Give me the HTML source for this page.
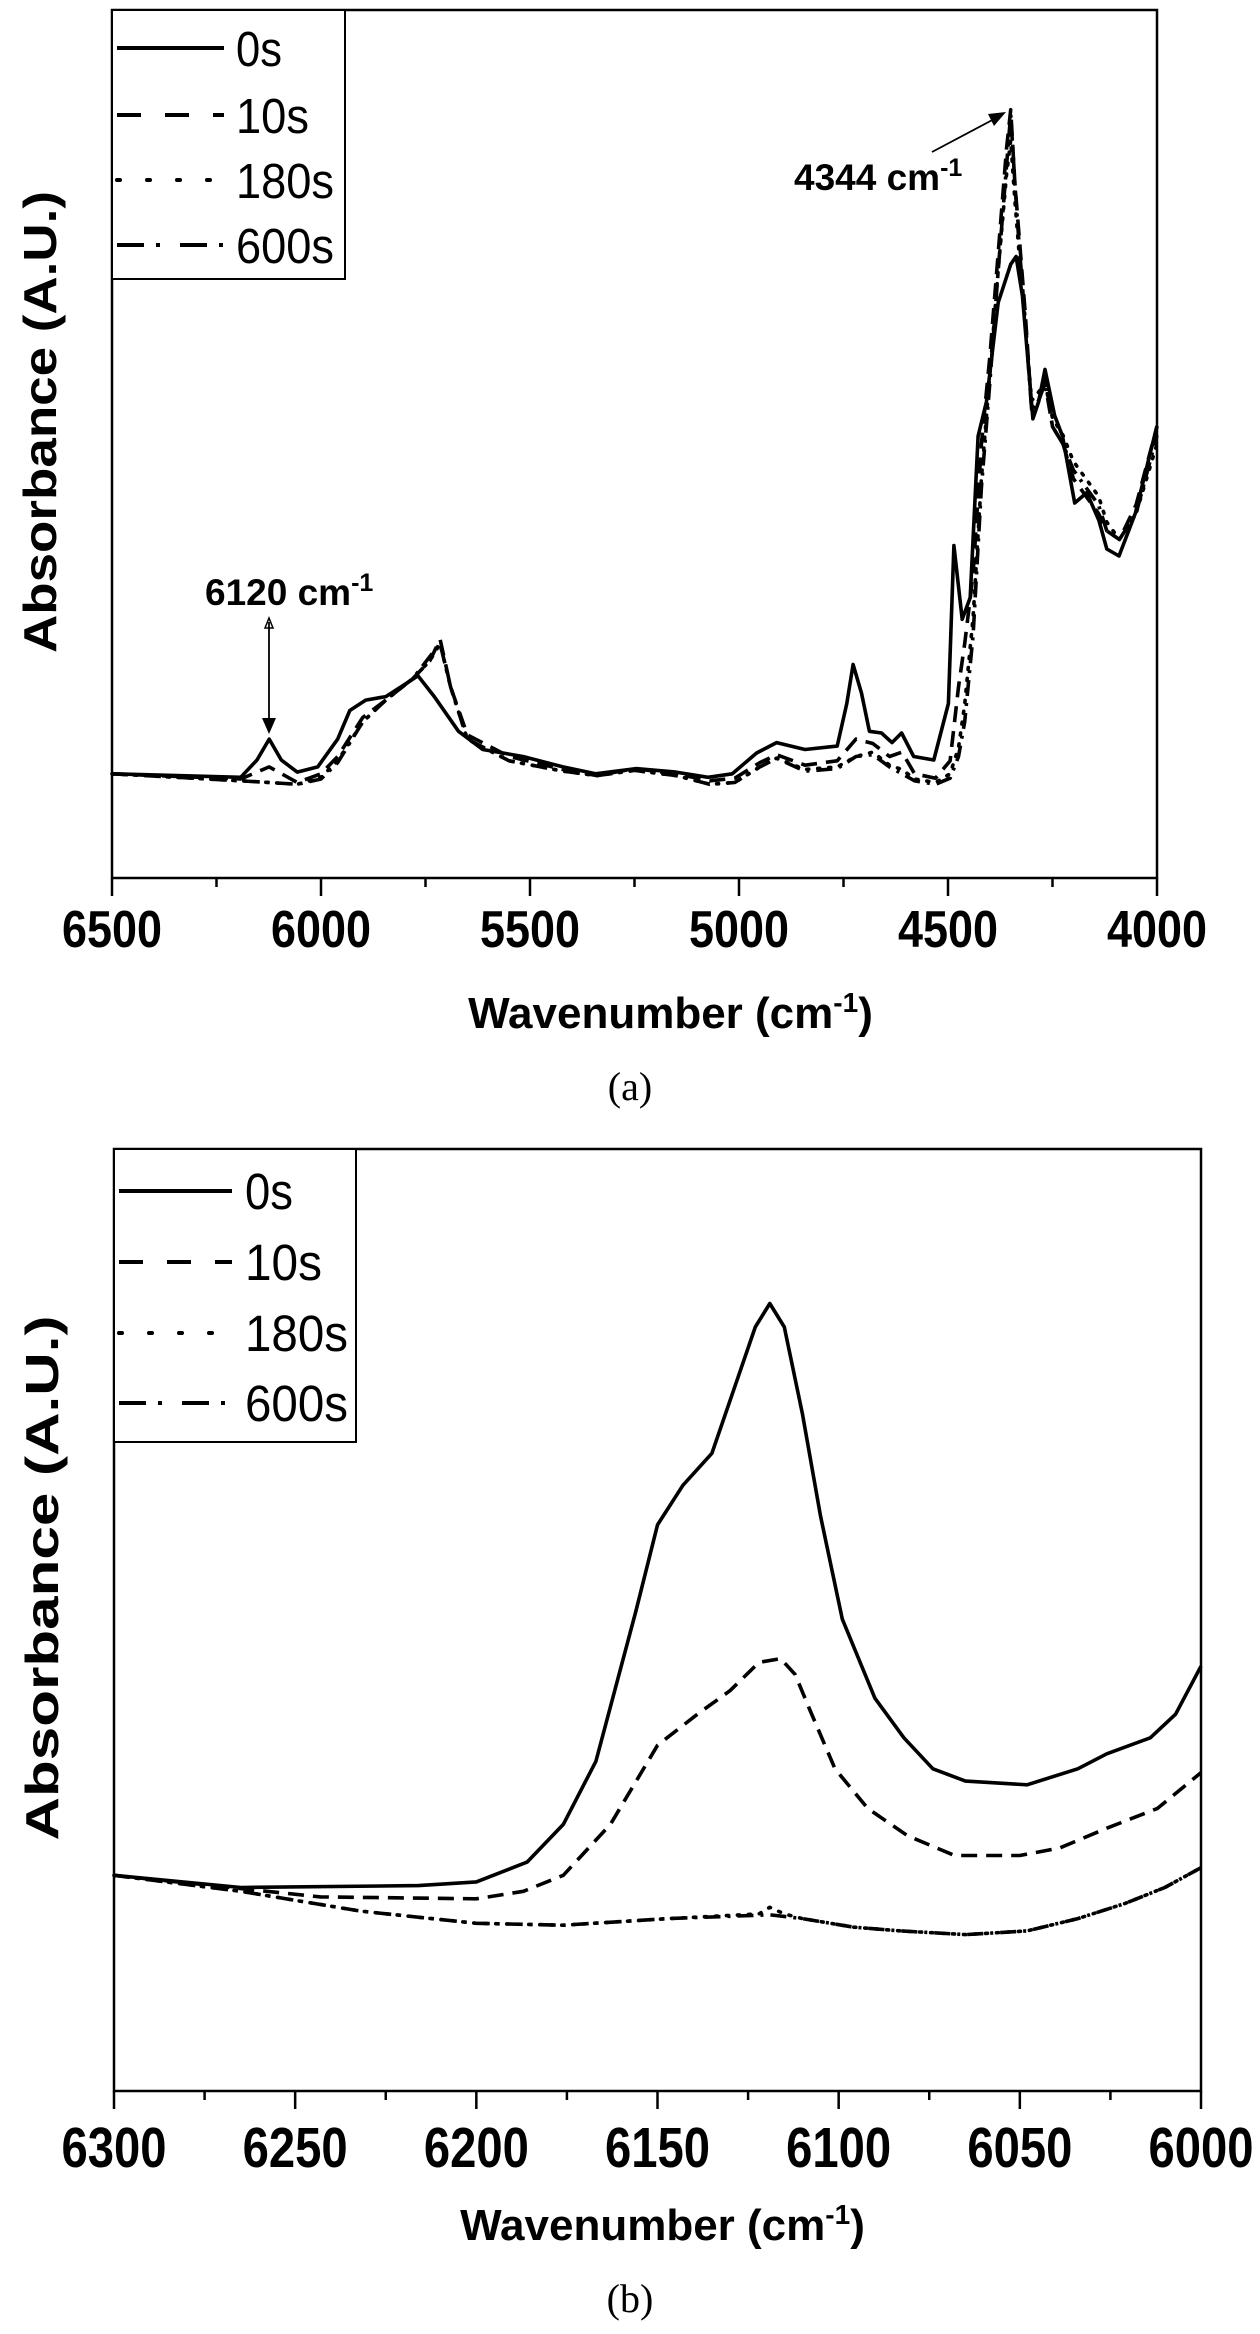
<!DOCTYPE html>
<html><head><meta charset="utf-8"><style>
html,body{margin:0;padding:0;background:#fff;}
svg{display:block;font-family:"Liberation Sans",Arial,sans-serif;}
</style></head><body>
<svg id="fig" width="1260" height="2334" viewBox="0 0 1260 2334" xmlns="http://www.w3.org/2000/svg">
<g id="panelA"></g>
<g id="panelB"></g>
</svg>
<script>
// ---------- Panel (a) data ----------
const aTicks = [6500, 6000, 5500, 5000, 4500, 4000];
const a0x = [6500,6192,6153,6124,6095,6057,6008,5960,5931,5893,5845,5806,5768,5729,5671,5613,5517,5421,5343,5247,5151,5074,5016,4958,4910,4842,4765,4742,4727,4707,4688,4659,4634,4611,4582,4534,4499,4486,4466,4447,4428,4408,4380,4350,4337,4322,4297,4283,4268,4245,4226,4197,4168,4139,4120,4091,4052,4000];
const a0y = [12.0,11.6,13.6,16.0,13.6,12.2,12.8,16.0,19.3,20.5,20.9,22.1,23.3,20.9,16.9,14.8,14.0,12.8,12.0,12.6,12.2,11.6,12.0,14.4,15.6,14.8,15.2,20.1,24.6,21.3,16.9,16.7,15.6,16.7,14.0,13.6,20.1,38.3,29.8,32.3,50.9,54.9,66.3,70.7,71.6,67.1,52.9,54.9,58.6,53.3,50.9,43.2,44.4,41.2,37.9,37.1,42.0,52.1];
const a10x = [6500,6192,6124,6057,6000,5960,5900,5845,5780,5740,5715,5690,5650,5550,5420,5340,5250,5150,5070,5010,4950,4910,4842,4765,4720,4680,4640,4610,4580,4530,4495,4475,4460,4440,4420,4400,4380,4360,4350,4340,4330,4315,4300,4283,4268,4250,4225,4200,4170,4140,4120,4090,4050,4000];
const a10y = [12.0,11.4,12.8,11.0,12.0,14.0,18.5,20.5,23.0,25.0,27.5,22.0,16.5,14.0,12.5,11.8,12.6,12.0,11.2,11.5,13.3,14.2,13.0,13.5,16.0,15.5,14.0,14.5,12.0,11.5,13.5,22.0,27.0,35.0,50.0,60.0,72.0,84.0,88.5,80.0,74.0,65.0,54.0,55.0,58.0,52.0,50.0,46.0,44.0,42.0,40.0,39.0,43.0,52.0];
const a180x = [6500,6192,6124,6057,6000,5960,5900,5845,5780,5740,5715,5690,5650,5550,5420,5340,5250,5150,5070,5010,4950,4910,4842,4765,4720,4680,4640,4610,4580,4530,4495,4475,4460,4440,4420,4400,4380,4360,4350,4340,4330,4315,4300,4283,4268,4250,4225,4200,4170,4140,4120,4090,4050,4000];
const a180y = [12.0,11.2,11.0,10.8,11.6,13.5,18.0,20.5,23.0,25.0,27.0,22.0,16.0,13.5,12.3,11.8,12.4,11.8,10.8,11.0,12.8,13.8,12.5,12.8,14.0,14.5,13.0,12.5,11.4,11.0,12.0,15.0,20.0,30.0,46.0,58.0,70.0,81.0,85.0,78.0,72.0,64.0,55.0,56.0,57.0,53.0,51.0,48.0,46.0,44.0,41.0,39.0,42.0,50.0];
const a600x = [6500,6192,6124,6057,6000,5960,5900,5845,5780,5740,5715,5690,5650,5550,5420,5340,5250,5150,5070,5010,4950,4910,4842,4765,4720,4680,4640,4610,4580,4530,4495,4475,4460,4440,4420,4400,4380,4360,4350,4340,4330,4315,4300,4283,4268,4250,4225,4200,4170,4140,4120,4090,4050,4000];
const a600y = [12.0,11.2,11.0,10.8,11.4,13.3,18.0,20.5,23.0,25.5,27.0,22.0,16.0,13.5,12.3,11.8,12.4,11.8,10.8,11.0,12.8,13.8,12.3,12.6,14.0,14.2,12.8,12.0,11.2,10.8,11.5,14.0,18.0,28.0,45.0,57.0,70.0,82.0,88.0,80.0,73.0,64.0,54.0,55.0,57.0,52.0,50.0,47.0,45.0,43.0,40.0,39.0,42.0,51.0];

// ---------- Panel (b) data ----------
const bTicks = [6300, 6250, 6200, 6150, 6100, 6050, 6000];
const b0x = [6300,6265,6216,6200,6186,6176,6167,6156,6150,6143,6135,6129,6123,6119,6115,6110,6105,6099,6090,6082,6074,6065,6048,6034,6026,6014,6007,6000];
const b0y = [22.9,21.6,21.8,22.2,24.3,28.3,35.0,50.9,60.1,64.3,67.7,74.4,81.1,83.6,81.1,71.9,61.0,50.1,41.7,37.5,34.2,32.9,32.5,34.2,35.8,37.5,40.0,45.1];
const b10x = [6300,6243,6200,6187,6176,6163,6150,6139,6130,6122,6116,6112,6108,6101,6092,6081,6068,6050,6039,6026,6012,6000];
const b10y = [22.9,20.6,20.4,21.2,22.9,28.3,36.7,40.0,42.5,45.5,45.9,44.2,40.5,34.2,30.0,27.1,25.0,25.0,25.8,27.9,30.0,33.8];
const b180x = [6300,6265,6232,6200,6176,6147,6122,6119,6115,6110,6096,6083,6065,6048,6034,6021,6010,6000];
const b180y = [22.9,21.2,19.1,17.8,17.6,18.3,18.8,19.5,18.8,18.3,17.4,17.0,16.6,17.0,18.3,19.9,21.6,23.7];
const b600x = [6300,6265,6232,6200,6176,6147,6119,6110,6096,6083,6065,6048,6034,6021,6010,6000];
const b600y = [22.9,21.2,19.1,17.8,17.6,18.3,18.7,18.3,17.4,17.0,16.6,17.0,18.3,19.9,21.6,23.7];

const NS = "http://www.w3.org/2000/svg";
function mk(parent, tag, attrs, text){
  const e = document.createElementNS(NS, tag);
  for (const k in attrs) e.setAttribute(k, attrs[k]);
  if (text !== undefined) e.textContent = text;
  parent.appendChild(e);
  return e;
}
const styles = {
  s0:  {dash:"none", leg:"none"},
  s10: {dash:"16 9", leg:"24 24"},
  s180:{dash:"2 9", leg:"3 27"},
  s600:{dash:"16 7 3 7", leg:"27 12 4 20"}
};

function drawPanel(g, cfg){
  const {L,R,T,B,xmin,xmax,ticks,minorStep,series,legend,tickW,tickFont,tickOff,label,labelY,ylabelX,ylabelY} = cfg;
  const sx = v => L + (xmax - v) / (xmax - xmin) * (R - L);
  const sy = v => B - v / 100 * (B - T);
  series.forEach(s => {
    let d = "";
    s.x.forEach((xv,i) => { d += (i ? "L" : "M") + sx(xv).toFixed(1) + "," + sy(s.y[i]).toFixed(1); });
    const p = mk(g, "path", {d:d, fill:"none", stroke:"#000", "stroke-width":"3.6", "stroke-linejoin":"round", "stroke-linecap": s.style==="s180" ? "round":"butt", "stroke-dasharray": styles[s.style].dash});
    
    
  });
  const fr = mk(g, "rect", {x:L, y:T, width:R-L, height:B-T, fill:"none", stroke:"#000", "stroke-width":"2.5"});
  
  
  for (let v = xmax; v >= xmin - 1e-6; v -= minorStep){
    const major = ticks.indexOf(Math.round(v)) >= 0;
    const t = mk(g, "line", {x1:sx(v), x2:sx(v), y1:B, y2:B + (major ? 18 : 9), stroke:"#000", "stroke-width":"2.5"});
    
    
  }
  ticks.forEach(v => {
    const t = mk(g, "text", {x:sx(v), y:B + tickOff, "text-anchor":"middle", "font-weight":"bold", "font-size":tickFont, textLength:tickW, lengthAdjust:"spacingAndGlyphs"}, String(v));
    
    
  });
  const xt = mk(g, "text", {x:(label.x1+label.x2)/2, y:labelY, "text-anchor":"middle", "font-weight":"bold", "font-size":"44"});
  
  
  mk(xt, "tspan", {}, "Wavenumber (cm");
  mk(xt, "tspan", {dy:"-16", "font-size":"28"}, "-1");
  mk(xt, "tspan", {dy:"16"}, ")");
  const yt = mk(g, "text", {x:0, y:0, transform:`translate(${ylabelX},${ylabelY}) rotate(-90)`, "text-anchor":"middle", "font-weight":"bold", "font-size":"46", textLength:cfg.ylabelLen, lengthAdjust:"spacingAndGlyphs"}, "Absorbance (A.U.)");
  
  
  const lg = mk(g, "g", {});
  
  
  const lb = mk(lg, "rect", {x:L, y:T, width:legend.w, height:legend.h, fill:"#fff", stroke:"#000", "stroke-width":"2"});
  
  
  series.forEach((s,i) => {
    const yy = legend.rows[i];
    const ln = mk(lg, "line", {x1:L+5, x2:legend.lx2, y1:yy, y2:yy, stroke:"#000", "stroke-width":"4", "stroke-linecap": s.style==="s180" ? "round":"butt", "stroke-dasharray": styles[s.style].leg});
    
    
    const tx = mk(lg, "text", {x:legend.tx, y:yy + 18, "font-size":legend.fs, textLength:legend.tw[i], lengthAdjust:"spacingAndGlyphs"}, s.label);
    
    
  });
}

drawPanel(document.getElementById("panelA"), {
  L:112, R:1157, T:10, B:878, xmin:4000, xmax:6500, ticks:aTicks, minorStep:250,
  tickW:100, tickFont:52, tickOff:69, label:{x1:486,x2:855}, labelY:1028, ylabelX:56, ylabelY:422, ylabelLen:462,
  series:[
    {name:"series-0s", label:"0s", style:"s0", x:a0x, y:a0y},
    {name:"series-10s", label:"10s", style:"s10", x:a10x, y:a10y},
    {name:"series-180s", label:"180s", style:"s180", x:a180x, y:a180y},
    {name:"series-600s", label:"600s", style:"s600", x:a600x, y:a600y}
  ],
  legend:{w:233, h:269, rows:[48,115,180,245], lx2:224, tx:236, fs:49, tw:[46,73,98,98]}
});
drawPanel(document.getElementById("panelB"), {
  L:114, R:1201, T:1149, B:2091, xmin:6000, xmax:6300, ticks:bTicks, minorStep:25,
  tickW:105, tickFont:57, tickOff:76, label:{x1:470,x2:855}, labelY:2240, ylabelX:58, ylabelY:1578, ylabelLen:525,
  series:[
    {name:"series-0s", label:"0s", style:"s0", x:b0x, y:b0y},
    {name:"series-10s", label:"10s", style:"s10", x:b10x, y:b10y},
    {name:"series-180s", label:"180s", style:"s180", x:b180x, y:b180y},
    {name:"series-600s", label:"600s", style:"s600", x:b600x, y:b600y}
  ],
  legend:{w:242, h:293, rows:[1191,1262,1333,1403], lx2:232, tx:245, fs:51, tw:[48,77,103,103]}
});

const ga = document.getElementById("panelA");
const an1 = mk(ga, "text", {x:205, y:605, "font-weight":"bold", "font-size":"37"});


mk(an1, "tspan", {}, "6120 cm");
mk(an1, "tspan", {dy:"-14", "font-size":"25"}, "-1");
const ar1 = mk(ga, "line", {x1:269, y1:622, x2:269, y2:728, stroke:"#000", "stroke-width":"1.8"});


mk(ga, "path", {d:"M262,718 L269,734 L276,718 Z", fill:"#000"});
mk(ga, "path", {d:"M265,628 L269,618 L273,628 Z", fill:"none", stroke:"#000", "stroke-width":"1.5"});
const an2 = mk(ga, "text", {x:794, y:190, "font-weight":"bold", "font-size":"37"});


mk(an2, "tspan", {}, "4344 cm");
mk(an2, "tspan", {dy:"-14", "font-size":"25"}, "-1");
const ar2 = mk(ga, "line", {x1:932, y1:152, x2:998, y2:117, stroke:"#000", "stroke-width":"1.8"});


mk(ga, "path", {d:"M1006,112 L988,114 L994,126 Z", fill:"#000"});

const ca = mk(document.getElementById("fig"), "text", {x:630, y:1100, "text-anchor":"middle", "font-size":"40", "font-family":"Liberation Serif, serif"}, "(a)");


const cb = mk(document.getElementById("fig"), "text", {x:630, y:2312, "text-anchor":"middle", "font-size":"40", "font-family":"Liberation Serif, serif"}, "(b)");


</script>
</body></html>
